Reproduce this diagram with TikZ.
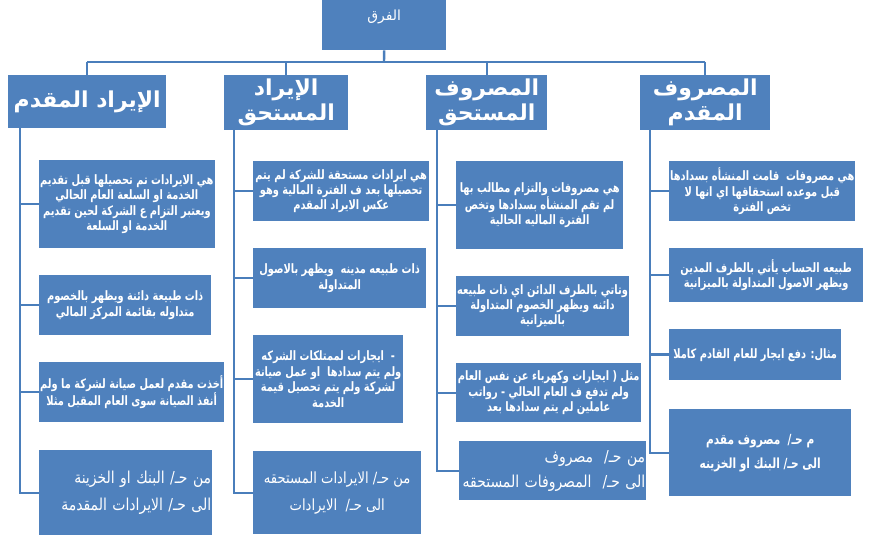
\documentclass[tikz,border=0pt]{standalone}
\usepackage{fontspec}
\TeXXeTstate=1
\newfontfamily\arabicfont[Script=Arabic, FakeStretch=0.85]{DejaVu Sans}
\newfontfamily\arabicbody[Script=Arabic, FakeStretch=0.76]{DejaVu Sans}
\newfontfamily\arabichead[Script=Arabic]{DejaVu Sans}
\usetikzlibrary{positioning}
\definecolor{boxblue}{HTML}{4F81BD}
\definecolor{lineblue}{HTML}{4A7EBB}
\newcommand{\artxt}[1]{\beginR #1\endR}
\tikzset{
  Tbox/.style={fill=boxblue, anchor=north west, text=white, align=center,
               font=\arabichead\fontsize{14}{16}\selectfont,
               minimum width=124bp, inner ysep=4bp, text height=16bp, text depth=26bp},
  Hbox/.style={fill=boxblue, anchor=north west, text=white, align=center,
               font=\arabichead\bfseries\fontsize{22}{25}\selectfont, inner sep=0bp},
  Cbox/.style={fill=boxblue, anchor=north west, text=white, align=center,
               font=\arabicbody\bfseries\fontsize{13}{15.5}\selectfont, inner sep=1bp},
  Jbox/.style={Cbox, font=\arabicfont\fontsize{15.5}{27}\selectfont},
  Link/.style={draw=lineblue, line width=2.4bp}
}
\begin{document}
\begin{tikzpicture}[x=1bp, y=-1bp]
  \useasboundingbox (0,0) rectangle (883,536);
  % top and headers
  \node[Tbox] (top) at (322,0) {\artxt{الفرق}};
  \node[Hbox, minimum width=158bp, minimum height=53bp] (h1) at (8,75) {\artxt{الإيراد المقدم}};
  \node[Hbox, minimum width=124bp, minimum height=55bp] (h2) at (224,75) {\artxt{الإيراد}\\\artxt{المستحق}};
  \node[Hbox, minimum width=121bp, minimum height=55bp] (h3) at (426,75) {\artxt{المصروف}\\\artxt{المستحق}};
  \node[Hbox, minimum width=130bp, minimum height=55bp] (h4) at (640,75) {\artxt{المصروف}\\\artxt{المقدم}};
  % column 1
  \node[Cbox, minimum width=172bp, minimum height=88bp] (c1a) at (39,160)
    {\artxt{هي الايرادات تم تحصيلها قبل تقديم}\\\artxt{الخدمة او السلعة العام الحالي}\\\artxt{ويعتبر التزام ع الشركة لحين تقديم}\\\artxt{الخدمة او السلعة}};
  \node[Cbox, minimum width=172bp, minimum height=60bp] (c1b) at (39,275)
    {\artxt{ذات طبيعة دائنة ويظهر بالخصوم}\\\artxt{متداوله بقائمة المركز المالي}};
  \node[Cbox, minimum width=172bp, minimum height=60bp] (c1c) at (39,362)
    {\artxt{أخذت مقدم لعمل صيانة لشركة ما ولم}\\\artxt{أنفذ الصيانة سوى العام المقبل مثلا}};
  \node[Jbox, minimum width=173bp, minimum height=85bp, text width=171bp, align=right,
        font=\arabicfont\fontsize{16.5}{27}\selectfont] (c1d) at (39,450)
    {\artxt{من حـ/ البنك او الخزينة}\\\artxt{الى حـ/ الايرادات المقدمة}};
  % column 2
  \node[Cbox, minimum width=176bp, minimum height=60bp] (c2a) at (253,161)
    {\artxt{هي ايرادات مستحقة للشركة لم يتم}\\\artxt{تحصيلها بعد ف الفترة المالية وهو}\\\artxt{عكس الايراد المقدم}};
  \node[Cbox, minimum width=173bp, minimum height=60bp] (c2b) at (253,248)
    {\artxt{ذات طبيعه مدينه \ ويظهر بالاصول}\\\artxt{المتداولة}};
  \node[Cbox, minimum width=150bp, minimum height=88bp] (c2c) at (253,335)
    {\artxt{- \ ايجارات لممتلكات الشركه}\\\artxt{ولم يتم سدادها \ او عمل صيانة}\\\artxt{لشركة ولم يتم تحصيل قيمة}\\\artxt{الخدمة}};
  \node[Jbox, minimum width=168bp, minimum height=83bp] (c2d) at (253,451)
    {\artxt{من حـ/ الايرادات المستحقه}\\\artxt{الى حـ/ \ الايرادات}};
  % column 3
  \node[Cbox, minimum width=167bp, minimum height=88bp] (c3a) at (456,161)
    {\artxt{هي مصروفات والتزام مطالب بها}\\\artxt{لم تقم المنشأه بسدادها وتخص}\\\artxt{الفترة الماليه الحالية}};
  \node[Cbox, minimum width=167bp, minimum height=60bp] (c3b) at (456,276)
    {\artxt{وتاتي بالطرف الدائن اي ذات طبيعه}\\\artxt{دائنه ويظهر الخصوم المتداولة}\\\artxt{بالميزانية}};
  \node[Cbox, minimum width=185bp, minimum height=59bp] (c3c) at (456,363)
    {\artxt{مثل ( ايجارات وكهرباء عن نفس العام}\\\artxt{ولم تدفع ف العام الحالي - رواتب}\\\artxt{عاملين لم يتم سدادها بعد}};
  \node[Jbox, minimum width=186bp, minimum height=59bp, text width=185bp, align=right,
        font=\arabicfont\fontsize{16.5}{25}\selectfont] (c3d) at (459,441)
    {\artxt{من حـ/ \ مصروف}\\\artxt{الى حـ/ \ المصروفات المستحقه}};
  % column 4
  \node[Cbox, minimum width=183bp, minimum height=60bp] (c4a) at (669,161)
    {\artxt{هي مصروفات \ قامت المنشأه بسدادها}\\\artxt{قبل موعده استحقاقها اي انها لا}\\\artxt{تخص الفترة}};
  \node[Cbox, minimum width=194bp, minimum height=54bp] (c4b) at (669,248)
    {\artxt{طبيعه الحساب يأتي بالطرف المدين}\\\artxt{ويظهر الاصول المتداولة بالميزانية}};
  \node[Cbox, minimum width=172bp, minimum height=51bp] (c4c) at (669,329)
    {\artxt{مثال: دفع ايجار للعام القادم كاملا}};
  \node[Cbox, minimum width=182bp, minimum height=87bp, font=\arabicbody\bfseries\fontsize{14}{24}\selectfont] (c4d) at (669,409)
    {\artxt{م حـ/ \ مصروف مقدم}\\\artxt{الى حـ/ البنك او الخزينه}};
  % connectors
  \coordinate (bus) at (384,62);
  \draw[Link] (top.south) -- (bus);
  \draw[Link] (bus -| h1.north) -- (bus -| h4.north);
  \foreach \h in {h1,h2,h3,h4}
    \draw[Link] (bus -| \h.north) -- (\h.north);
  \coordinate (t1) at (20,128);
  \coordinate (t2) at (234,130);
  \coordinate (t3) at (437,130);
  \coordinate (t4) at (650,130);
  \draw[Link] (t1) |- (c1d.west);
  \draw[Link] (t2) |- (c2d.west);
  \draw[Link] (t3) |- (c3d.west);
  \draw[Link] (t4) |- (c4d.west);
  \foreach \b in {c1a,c1b,c1c}
    \draw[Link] (\b.west -| t1) -- (\b.west);
  \foreach \b in {c2a,c2b,c2c}
    \draw[Link] (\b.west -| t2) -- (\b.west);
  \foreach \b in {c3a,c3b,c3c}
    \draw[Link] (\b.west -| t3) -- (\b.west);
  \foreach \b in {c4a,c4b,c4c}
    \draw[Link] (\b.west -| t4) -- (\b.west);
\end{tikzpicture}
\end{document}
